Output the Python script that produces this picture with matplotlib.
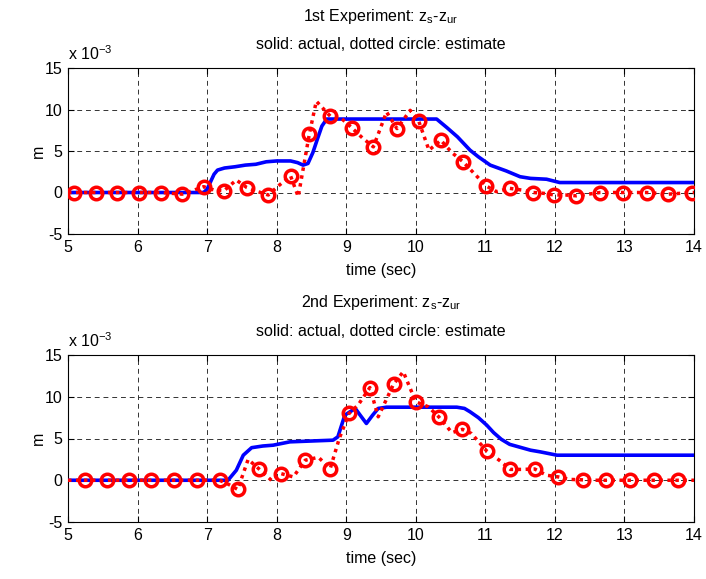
import matplotlib
matplotlib.use("Agg")
import matplotlib.pyplot as plt

plt.rcParams['font.family'] = ['Liberation Sans', 'DejaVu Sans']
plt.rcParams['mathtext.fontset'] = 'custom'
plt.rcParams['mathtext.rm'] = 'Liberation Sans'
plt.rcParams['mathtext.it'] = 'Liberation Sans'
plt.rcParams['axes.unicode_minus'] = False

# ---------------- data (units of 1e-3 m) ----------------
# Experiment 1: actual (solid)
act1_t = [5.0, 6.95, 7.0, 7.05, 7.1, 7.15, 7.25, 7.4, 7.55, 7.7, 7.85, 8.0, 8.2, 8.3,
          8.38, 8.45, 8.52, 8.58, 8.65, 8.72, 10.3, 10.45, 10.6, 10.78, 10.9, 11.07,
          11.3, 11.5, 11.65, 11.88, 12.07, 14.0]
act1_v = [0, 0, 0.4, 1.3, 2.2, 2.7, 2.95, 3.1, 3.3, 3.4, 3.7, 3.8, 3.8, 3.6,
          3.3, 3.5, 4.8, 6.3, 8.0, 8.85, 8.85, 7.8, 6.7, 5.1, 4.3, 3.3,
          2.6, 1.9, 1.7, 1.6, 1.2, 1.2]
# Experiment 1: estimate (dotted line)
est1_t = [5.0, 5.08, 5.24, 5.40, 5.56, 5.71, 5.87, 6.02, 6.18, 6.33, 6.49, 6.64, 6.80,
          6.95, 7.10, 7.24, 7.42, 7.57, 7.73, 7.88, 8.04, 8.20, 8.31, 8.47, 8.57,
          8.77, 8.92, 9.08, 9.23, 9.39, 9.58, 9.73, 9.92, 10.04, 10.19, 10.36, 10.52,
          10.68, 10.85, 11.01, 11.16, 11.35, 11.52, 11.69, 11.84, 11.99, 12.15, 12.31,
          12.48, 12.65, 12.81, 12.98, 13.15, 13.32, 13.48, 13.63, 13.80, 13.97, 14.0]
est1_v = [0, 0, 0, 0, 0, 0, 0, 0, 0, 0, -0.1, -0.2, 0.25,
          0.7, 0.3, 0.2, 1.5, 0.6, 0.1, -0.3, 0.9, 2.0, -0.5, 7.05, 11.0,
          9.2, 9.0, 7.8, 6.6, 5.5, 9.7, 7.7, 9.9, 8.65, 5.1, 6.3, 4.8,
          3.7, 2.2, 0.8, 0.1, 0.5, 0.3, 0, -0.1, -0.3, -0.3, -0.4,
          -0.2, 0, 0, 0, 0, 0, -0.1, -0.2, -0.1, 0, 0]
# Experiment 1: estimate sample points (circles)
mk1_t = [5.08, 5.40, 5.71, 6.02, 6.33, 6.64, 6.95, 7.24, 7.57, 7.88, 8.20, 8.47, 8.77,
         9.08, 9.39, 9.73, 10.04, 10.36, 10.68, 11.01, 11.35, 11.69, 11.99, 12.31,
         12.65, 12.98, 13.32, 13.63, 13.97]
mk1_v = [0, 0, 0, 0, 0, -0.2, 0.7, 0.2, 0.6, -0.3, 2.0, 7.05, 9.2,
         7.8, 5.5, 7.7, 8.65, 6.3, 3.7, 0.8, 0.5, 0, -0.3, -0.4,
         0, 0, 0, -0.2, 0]

# Experiment 2: actual (solid)
act2_t = [5.0, 7.30, 7.42, 7.52, 7.64, 7.8, 7.95, 8.19, 8.5, 8.81, 8.88, 8.98, 9.13,
          9.2, 9.29, 9.38, 9.46, 9.58, 10.59, 10.7, 10.78, 10.9, 11.02, 11.12, 11.23,
          11.35, 11.5, 11.65, 11.79, 12.03, 14.0]
act2_v = [0, 0, 1.2, 3.0, 3.9, 4.1, 4.2, 4.6, 4.7, 4.8, 5.2, 7.8, 8.6,
          7.8, 6.8, 7.8, 8.6, 8.75, 8.75, 8.6, 8.2, 7.5, 6.6, 5.7, 4.9,
          4.3, 3.95, 3.6, 3.4, 3.0, 3.0]
# Experiment 2: estimate (dotted line)
est2_t = [5.0, 5.24, 5.40, 5.56, 5.72, 5.88, 6.04, 6.20, 6.36, 6.52, 6.68, 6.85, 7.01,
          7.18, 7.31, 7.44, 7.59, 7.74, 7.93, 8.06, 8.24, 8.41, 8.60, 8.77, 8.90,
          9.04, 9.17, 9.34, 9.46, 9.68, 9.82, 10.00, 10.18, 10.33, 10.52, 10.67, 10.80,
          11.02, 11.20, 11.36, 11.54, 11.71, 11.88, 12.05, 12.22, 12.40, 12.57, 12.74,
          12.91, 13.08, 13.25, 13.42, 13.60, 13.77, 14.0]
est2_v = [0, 0, 0, 0, 0, 0, 0, 0, 0, 0, 0, 0, 0,
          0, -0.5, -1.1, 2.5, 1.4, -0.05, 0.8, 0.4, 2.4, 2.75, 1.4, 5.0,
          8.0, 9.0, 11.1, 7.6, 11.5, 13.0, 9.4, 8.8, 7.6, 5.7, 6.1, 5.6,
          3.5, 2.4, 1.3, 1.3, 1.35, 0.6, 0.4, 0.1, 0.05, 0, 0,
          0, 0, 0, 0, 0, 0, 0]
# Experiment 2: estimate sample points (circles)
mk2_t = [5.24, 5.56, 5.88, 6.20, 6.52, 6.85, 7.18, 7.44, 7.74, 8.06, 8.41, 8.77, 9.04,
         9.34, 9.68, 10.00, 10.33, 10.67, 11.02, 11.36, 11.71, 12.05, 12.40, 12.74,
         13.08, 13.42, 13.77]
mk2_v = [0, 0, 0, 0, 0, 0, 0, -1.1, 1.4, 0.8, 2.4, 1.4, 8.0,
         11.1, 11.5, 9.4, 7.6, 6.1, 3.5, 1.3, 1.35, 0.4, 0.05, 0,
         0, 0, 0]

xticks = [5, 6, 7, 8, 9, 10, 11, 12, 13, 14]
yticks = [-5, 0, 5, 10, 15]
titles = [r'1st Experiment: $\mathrm{z_s}$-$\mathrm{z_{ur}}$',
          r'2nd Experiment: $\mathrm{z_s}$-$\mathrm{z_{ur}}$']
subtitle = 'solid: actual, dotted circle: estimate'

# ---------------- figure ----------------
W, H = 706, 579
fig = plt.figure(figsize=(W / 100, H / 100), dpi=100)
fs = 11.5

def px_axes(l, t, r, b):
    return fig.add_axes([l / W, 1 - b / H, (r - l) / W, (b - t) / H])

ax1 = px_axes(68, 68, 694, 234)
ax2 = px_axes(68, 355, 694, 522)

data = [(act1_t, act1_v, est1_t, est1_v, mk1_t, mk1_v),
        (act2_t, act2_v, est2_t, est2_v, mk2_t, mk2_v)]

for ax, (at, av, et, ev, mt, mv), title in zip([ax1, ax2], data, titles):
    ax.plot(at, av, color='#0000ff', lw=2.6, solid_capstyle='butt', zorder=3)
    ax.plot(et, ev, color='#ff0000', lw=2.5, linestyle=(0, (1, 1.3)), zorder=4)
    ax.plot(mt, mv, linestyle='none', marker='o', ms=9, mfc='none',
            mec='#ff0000', mew=2.5, zorder=5)
    ax.set_xlim(5, 14)
    ax.set_ylim(-5, 15)
    ax.set_xticks(xticks)
    ax.set_yticks(yticks)
    ax.grid(True, color='0.2', linestyle=(0, (5, 4)), lw=0.7)
    ax.set_axisbelow(True)
    ax.tick_params(direction='in', top=True, right=True, length=4,
                   labelsize=fs, pad=4)
    for s in ax.spines.values():
        s.set_linewidth(0.8)
    ax.set_xlabel('time (sec)', fontsize=fs, va='center')
    ax.xaxis.set_label_coords(0.5, -36 / 166)
    ax.set_ylabel('m', fontsize=fs, va='center')
    ax.yaxis.set_label_coords(-0.048, 0.5)
    ax.text(0.5, 1.313, title, transform=ax.transAxes, ha='center',
            va='center', fontsize=fs)
    ax.text(0.5, 1.139, subtitle, transform=ax.transAxes, ha='center',
            va='center', fontsize=fs)
    ax.text(0.0, 1.03, r'x 10$^{\mathrm{-3}}$', transform=ax.transAxes,
            ha='left', va='bottom', fontsize=fs)

fig.savefig('out.png', dpi=100)
